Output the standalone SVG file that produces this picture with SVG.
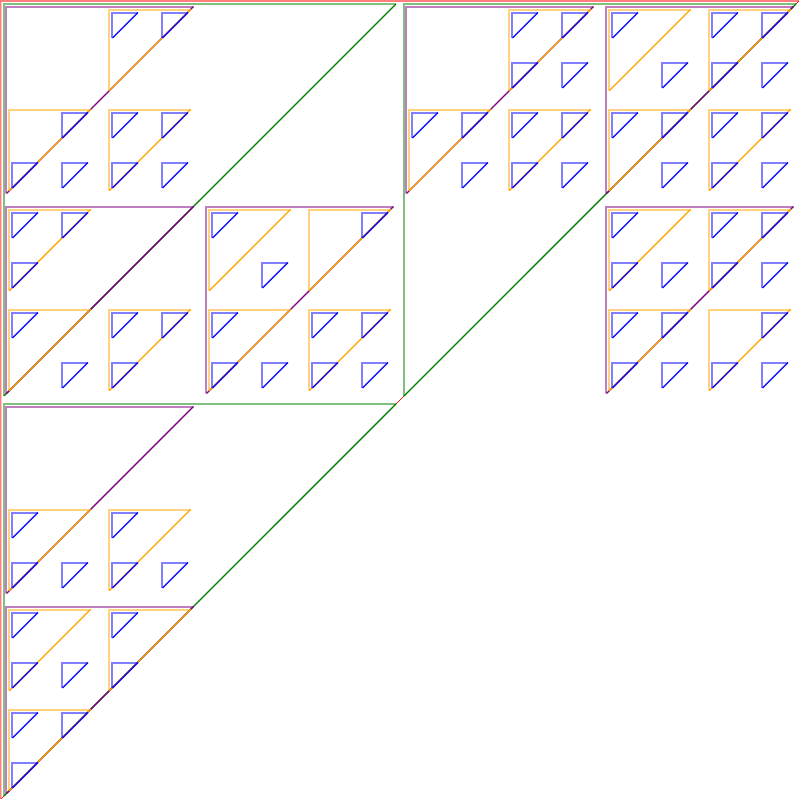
<svg xmlns="http://www.w3.org/2000/svg" width="801" height="801" viewBox="0 0 801 801">
<style>
.leg{fill:none;stroke-width:2;stroke-opacity:0.5}
.hyp{fill:none;stroke-width:1.5}
.hyp0{fill:none;stroke-width:1}
</style>
<defs>
<g id="t0"><polyline class="leg" stroke="#ff0000" points="799,1 0.5,1 0.5,799"/><line class="hyp0" stroke="#ff0000" x1="799" y1="1" x2="1" y2="799"/></g>
<g id="t1"><polyline class="leg" stroke="#008000" points="396,4 4,4 4,396"/><line class="hyp" stroke="#008000" x1="396" y1="4" x2="4" y2="396"/></g>
<g id="t2"><polyline class="leg" stroke="#800080" points="193.5,7 6,7 6,193.5"/><line class="hyp" stroke="#800080" x1="193.5" y1="6.5" x2="6.5" y2="193.5"/></g>
<g id="t3"><polyline class="leg" stroke="#ffa500" points="90.75,10 9,10 9,90.75"/><line class="hyp" stroke="#ffa500" x1="90.75" y1="9.25" x2="9.25" y2="90.75"/></g>
<g id="t4"><polyline class="leg" stroke="#0000ff" points="38,13 12,13 12,38"/><line class="hyp" stroke="#0000ff" x1="38" y1="12.5" x2="12.5" y2="38"/></g>
</defs>
<rect width="801" height="801" fill="#ffffff"/>
<g id="level0-red">
<use href="#t0" x="0" y="0"/>
</g>
<g id="level1-green">
<use href="#t1" x="0" y="0"/>
<use href="#t1" x="400" y="0"/>
<use href="#t1" x="0" y="400"/>
</g>
<g id="level2-purple">
<use href="#t2" x="0" y="0"/>
<use href="#t2" x="0" y="200"/>
<use href="#t2" x="200" y="200"/>
<use href="#t2" x="400" y="0"/>
<use href="#t2" x="600" y="0"/>
<use href="#t2" x="600" y="200"/>
<use href="#t2" x="0" y="400"/>
<use href="#t2" x="0" y="600"/>
</g>
<g id="level3-orange">
<use href="#t3" x="100" y="0"/>
<use href="#t3" x="0" y="100"/>
<use href="#t3" x="100" y="100"/>
<use href="#t3" x="0" y="200"/>
<use href="#t3" x="0" y="300"/>
<use href="#t3" x="100" y="300"/>
<use href="#t3" x="200" y="200"/>
<use href="#t3" x="300" y="200"/>
<use href="#t3" x="200" y="300"/>
<use href="#t3" x="300" y="300"/>
<use href="#t3" x="500" y="0"/>
<use href="#t3" x="400" y="100"/>
<use href="#t3" x="500" y="100"/>
<use href="#t3" x="600" y="0"/>
<use href="#t3" x="700" y="0"/>
<use href="#t3" x="600" y="100"/>
<use href="#t3" x="700" y="100"/>
<use href="#t3" x="600" y="200"/>
<use href="#t3" x="700" y="200"/>
<use href="#t3" x="600" y="300"/>
<use href="#t3" x="700" y="300"/>
<use href="#t3" x="0" y="500"/>
<use href="#t3" x="100" y="500"/>
<use href="#t3" x="0" y="600"/>
<use href="#t3" x="100" y="600"/>
<use href="#t3" x="0" y="700"/>
</g>
<g id="level4-blue">
<use href="#t4" x="100" y="0"/>
<use href="#t4" x="150" y="0"/>
<use href="#t4" x="50" y="100"/>
<use href="#t4" x="0" y="150"/>
<use href="#t4" x="50" y="150"/>
<use href="#t4" x="100" y="100"/>
<use href="#t4" x="150" y="100"/>
<use href="#t4" x="100" y="150"/>
<use href="#t4" x="150" y="150"/>
<use href="#t4" x="0" y="200"/>
<use href="#t4" x="50" y="200"/>
<use href="#t4" x="0" y="250"/>
<use href="#t4" x="0" y="300"/>
<use href="#t4" x="50" y="350"/>
<use href="#t4" x="100" y="300"/>
<use href="#t4" x="150" y="300"/>
<use href="#t4" x="100" y="350"/>
<use href="#t4" x="200" y="200"/>
<use href="#t4" x="250" y="250"/>
<use href="#t4" x="350" y="200"/>
<use href="#t4" x="200" y="300"/>
<use href="#t4" x="200" y="350"/>
<use href="#t4" x="250" y="350"/>
<use href="#t4" x="300" y="300"/>
<use href="#t4" x="350" y="300"/>
<use href="#t4" x="300" y="350"/>
<use href="#t4" x="350" y="350"/>
<use href="#t4" x="500" y="0"/>
<use href="#t4" x="550" y="0"/>
<use href="#t4" x="500" y="50"/>
<use href="#t4" x="550" y="50"/>
<use href="#t4" x="400" y="100"/>
<use href="#t4" x="450" y="100"/>
<use href="#t4" x="450" y="150"/>
<use href="#t4" x="500" y="100"/>
<use href="#t4" x="550" y="100"/>
<use href="#t4" x="500" y="150"/>
<use href="#t4" x="550" y="150"/>
<use href="#t4" x="600" y="0"/>
<use href="#t4" x="650" y="50"/>
<use href="#t4" x="700" y="0"/>
<use href="#t4" x="750" y="0"/>
<use href="#t4" x="700" y="50"/>
<use href="#t4" x="750" y="50"/>
<use href="#t4" x="600" y="100"/>
<use href="#t4" x="650" y="100"/>
<use href="#t4" x="650" y="150"/>
<use href="#t4" x="700" y="100"/>
<use href="#t4" x="750" y="100"/>
<use href="#t4" x="700" y="150"/>
<use href="#t4" x="750" y="150"/>
<use href="#t4" x="600" y="200"/>
<use href="#t4" x="600" y="250"/>
<use href="#t4" x="650" y="250"/>
<use href="#t4" x="700" y="200"/>
<use href="#t4" x="750" y="200"/>
<use href="#t4" x="700" y="250"/>
<use href="#t4" x="750" y="250"/>
<use href="#t4" x="600" y="300"/>
<use href="#t4" x="650" y="300"/>
<use href="#t4" x="600" y="350"/>
<use href="#t4" x="650" y="350"/>
<use href="#t4" x="750" y="300"/>
<use href="#t4" x="700" y="350"/>
<use href="#t4" x="750" y="350"/>
<use href="#t4" x="0" y="500"/>
<use href="#t4" x="0" y="550"/>
<use href="#t4" x="50" y="550"/>
<use href="#t4" x="100" y="500"/>
<use href="#t4" x="100" y="550"/>
<use href="#t4" x="150" y="550"/>
<use href="#t4" x="0" y="600"/>
<use href="#t4" x="0" y="650"/>
<use href="#t4" x="50" y="650"/>
<use href="#t4" x="100" y="600"/>
<use href="#t4" x="100" y="650"/>
<use href="#t4" x="0" y="700"/>
<use href="#t4" x="50" y="700"/>
<use href="#t4" x="0" y="750"/>
</g>
</svg>
